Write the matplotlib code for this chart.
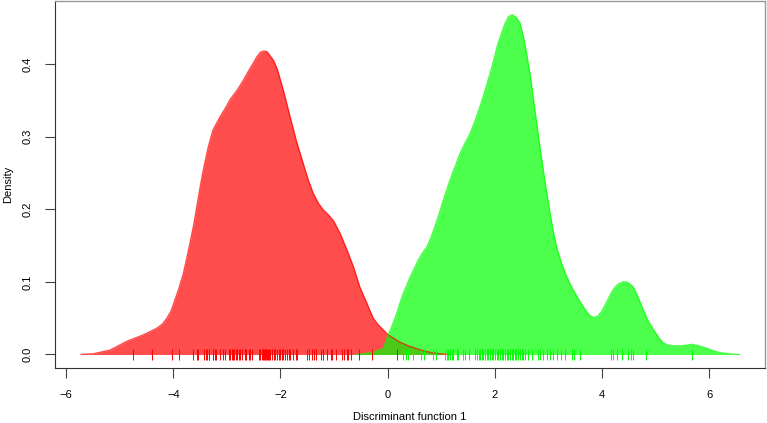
import matplotlib
matplotlib.use('Agg')
import matplotlib.pyplot as plt

plt.rcParams['font.family'] = ['Liberation Sans', 'DejaVu Sans']

# 그룹 1 (빨강) 밀도 곡선 - 그림에서 읽은 값
red_x = [-5.72, -5.49, -5.18, -4.87, -4.56, -4.31, -4.20, -4.12, -4.04, -3.97,
         -3.89, -3.81, -3.75, -3.69, -3.62, -3.56, -3.50, -3.44, -3.35, -3.26,
         -3.13, -3.03, -2.94, -2.81, -2.69, -2.60, -2.51, -2.44, -2.38, -2.31,
         -2.25, -2.20, -2.13, -2.06, -1.94, -1.82, -1.70, -1.58, -1.48, -1.39,
         -1.29, -1.20, -1.10, -1.01, -0.89, -0.76, -0.64, -0.52, -0.45, -0.39,
         -0.33, -0.27, -0.19, -0.11, 0.01, 0.12, 0.23, 0.38, 0.54, 0.70, 0.85, 1.00, 1.15]
red_y = [0.0, 0.001, 0.006, 0.018, 0.027, 0.036, 0.042, 0.050, 0.060, 0.075,
         0.092, 0.112, 0.132, 0.153, 0.178, 0.204, 0.230, 0.254, 0.285, 0.309,
         0.327, 0.339, 0.351, 0.364, 0.378, 0.390, 0.401, 0.410, 0.416, 0.418,
         0.417, 0.412, 0.405, 0.393, 0.362, 0.327, 0.293, 0.264, 0.240, 0.222,
         0.208, 0.199, 0.192, 0.184, 0.167, 0.144, 0.121, 0.093, 0.081, 0.071,
         0.060, 0.050, 0.042, 0.036, 0.027, 0.022, 0.017, 0.012, 0.0080, 0.0045, 0.0022, 0.0008, 0.0]

# 그룹 2 (초록) 밀도 곡선
green_x = [-0.58, -0.45, -0.33, -0.20, -0.08, 0.01, 0.09, 0.17, 0.23, 0.29,
           0.36, 0.42, 0.50, 0.57, 0.65, 0.73, 0.80, 0.88, 0.96, 1.04,
           1.12, 1.20, 1.28, 1.35, 1.45, 1.54, 1.63, 1.72, 1.81, 1.91,
           1.99, 2.06, 2.13, 2.19, 2.25, 2.32, 2.40, 2.47, 2.53, 2.59,
           2.66, 2.72, 2.78, 2.84, 2.93, 3.03, 3.09, 3.15, 3.24, 3.34,
           3.43, 3.53, 3.62, 3.71, 3.78, 3.85, 3.92, 3.99, 4.07, 4.15,
           4.22, 4.30, 4.38, 4.45, 4.52, 4.58, 4.67, 4.77, 4.86, 4.96,
           5.05, 5.14, 5.23, 5.33, 5.50, 5.67, 5.80, 5.95, 6.08, 6.20, 6.38, 6.56]
green_y = [0.0, 0.0008, 0.0025, 0.0050, 0.0085, 0.027, 0.041, 0.057, 0.071, 0.084,
           0.096, 0.107, 0.119, 0.130, 0.140, 0.148, 0.160, 0.176, 0.194, 0.213,
           0.231, 0.248, 0.263, 0.277, 0.292, 0.305, 0.322, 0.341, 0.362, 0.387,
           0.409, 0.429, 0.444, 0.456, 0.465, 0.468, 0.464, 0.456, 0.438, 0.415,
           0.384, 0.351, 0.318, 0.286, 0.240, 0.194, 0.169, 0.148, 0.126, 0.107,
           0.093, 0.080, 0.069, 0.059, 0.053, 0.051, 0.053, 0.059, 0.070, 0.082,
           0.091, 0.097, 0.100, 0.100, 0.097, 0.093, 0.079, 0.061, 0.046, 0.034,
           0.024, 0.016, 0.013, 0.012, 0.012, 0.014, 0.012, 0.0085, 0.0050, 0.0025, 0.0008, 0.0]

# rug 관측값
red_rug = [-4.75, -4.39, -4.02, -3.89, -3.63, -3.55, -3.53, -3.42, -3.39, -3.37,
           -3.34, -3.33, -3.26, -3.25, -3.23, -3.21, -3.12, -3.07, -3.04, -2.97,
           -2.94, -2.91, -2.89, -2.86, -2.83, -2.81, -2.77, -2.76, -2.72, -2.66,
           -2.64, -2.59, -2.57, -2.54, -2.41, -2.38, -2.35, -2.32, -2.31, -2.29,
           -2.27, -2.26, -2.24, -2.21, -2.20, -2.16, -2.13, -2.10, -2.07, -2.03,
           -2.01, -1.98, -1.95, -1.91, -1.88, -1.85, -1.82, -1.76, -1.72, -1.70,
           -1.51, -1.46, -1.41, -1.37, -1.34, -1.25, -1.21, -1.14, -1.05, -1.03,
           -0.96, -0.85, -0.82, -0.76, -0.74, -0.69, -0.54, -0.29, 0.17]
green_rug = [0.29, 0.35, 0.38, 0.48, 0.62, 0.68, 0.84, 0.91, 1.07, 1.10,
             1.13, 1.16, 1.20, 1.22, 1.29, 1.32, 1.40, 1.44, 1.52, 1.63,
             1.66, 1.70, 1.72, 1.76, 1.78, 1.82, 1.86, 1.88, 1.91, 1.95,
             1.97, 2.00, 2.04, 2.06, 2.09, 2.13, 2.16, 2.18, 2.22, 2.25,
             2.29, 2.31, 2.34, 2.38, 2.40, 2.43, 2.47, 2.50, 2.53, 2.57,
             2.62, 2.69, 2.80, 2.84, 2.90, 2.97, 3.03, 3.08, 3.15, 3.23,
             3.31, 3.43, 3.48, 3.59, 4.16, 4.21, 4.28, 4.38, 4.49, 4.53,
             4.58, 4.81, 5.68]

red_c = (1.0, 0.0, 0.0, 0.7)
green_c = (0.0, 1.0, 0.0, 0.7)

fig = plt.figure(figsize=(7.67, 4.23), dpi=100)
ax = fig.add_axes([55 / 767, 55 / 423, 710 / 767, 367 / 423])

ax.fill_between(red_x, 0, red_y, color=red_c, linewidth=0)
ax.plot(red_x, red_y, color=red_c, linewidth=1)
ax.fill_between(green_x, 0, green_y, color=green_c, linewidth=0)
ax.plot(green_x, green_y, color=green_c, linewidth=1)

ax.vlines(red_rug, -0.0075, 0.0075, color='red', linewidth=0.7)
ax.vlines(green_rug, -0.0075, 0.0075, color='#00ff00', linewidth=0.7)

ax.set_xlim(-6.207, 7.039)
ax.set_ylim(-0.0186, 0.4869)
ax.set_xticks([-6, -4, -2, 0, 2, 4, 6])
ax.set_yticks([0.0, 0.1, 0.2, 0.3, 0.4])
ax.set_yticklabels(['0.0', '0.1', '0.2', '0.3', '0.4'], rotation=90, va='center')
ax.tick_params(axis='both', direction='out', length=7, width=0.8, labelsize=8,
               color='#444444')
ax.tick_params(axis='x', pad=9)
ax.tick_params(axis='y', pad=9)

for side in ['top', 'right']:
    ax.spines[side].set_color('#999999')
    ax.spines[side].set_linewidth(1)
for side in ['left', 'bottom']:
    ax.spines[side].set_color('#333333')
    ax.spines[side].set_linewidth(0.8)

ax.set_xlabel('Discriminant function 1', fontsize=8, va='center')
ax.xaxis.set_label_coords(0.5, -0.133)
ax.set_ylabel('Density', fontsize=8, va='center')
ax.yaxis.set_label_coords(-0.066, 0.5)

fig.savefig('out.png', dpi=100)
